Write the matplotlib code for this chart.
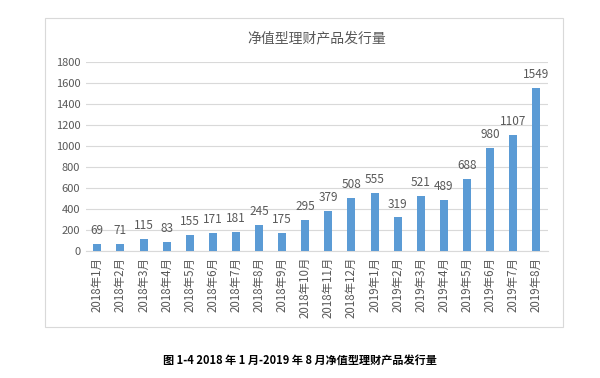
import matplotlib
matplotlib.use('Agg')
import matplotlib.pyplot as plt
from matplotlib.patches import Rectangle

plt.rcParams['font.family'] = ['Noto Sans CJK SC', 'DejaVu Sans']

# data
months = ['2018年1月', '2018年2月', '2018年3月', '2018年4月', '2018年5月', '2018年6月',
          '2018年7月', '2018年8月', '2018年9月', '2018年10月', '2018年11月', '2018年12月',
          '2019年1月', '2019年2月', '2019年3月', '2019年4月', '2019年5月', '2019年6月',
          '2019年7月', '2019年8月']
issued = [69, 71, 115, 83, 155, 171, 181, 245, 175, 295, 379, 508,
          555, 319, 521, 489, 688, 980, 1107, 1549]
yticks = [0, 200, 400, 600, 800, 1000, 1200, 1400, 1600, 1800]

grey = '#595959'
fig = plt.figure(figsize=(6, 3.78), dpi=100)
ax = fig.add_axes([0.143, 0.336, 0.77, 0.50])

x = range(len(months))
ax.bar(x, issued, width=0.35, color='#5B9BD5', zorder=3)
for i, v in zip(x, issued):
    ax.annotate(str(v), (i, v), xytext=(0, 5), textcoords='offset points',
                ha='center', va='bottom', fontsize=8.5, color=grey)

ax.set_xlim(-0.5, len(months) - 0.5)
ax.set_ylim(0, 1800)
ax.set_yticks(yticks)
ax.set_yticklabels([str(t) for t in yticks], fontsize=8, color=grey)
ax.set_xticks(list(x))
ax.set_xticklabels(months, rotation=90, fontsize=8.3, color=grey)
ax.tick_params(axis='both', length=0, pad=4)
ax.grid(axis='y', color='#D9D9D9', linewidth=0.8, zorder=0)
for s in ['top', 'right', 'left']:
    ax.spines[s].set_visible(False)
ax.spines['bottom'].set_color('#D9D9D9')

ax.set_title('净值型理财产品发行量', fontsize=10, color=grey, pad=14)

# chart border
fig.patches.append(Rectangle((45 / 600, 1 - 327 / 378), 518 / 600, 309 / 378,
                             transform=fig.transFigure, fill=False,
                             edgecolor='#D9D9D9', linewidth=0.8))

fig.text(0.5, 1 - 360 / 378, '图 1-4 2018 年 1 月-2019 年 8 月净值型理财产品发行量',
         ha='center', va='center', fontsize=8, fontweight='bold', color='black')

fig.savefig('out.png', dpi=100, facecolor='white')
